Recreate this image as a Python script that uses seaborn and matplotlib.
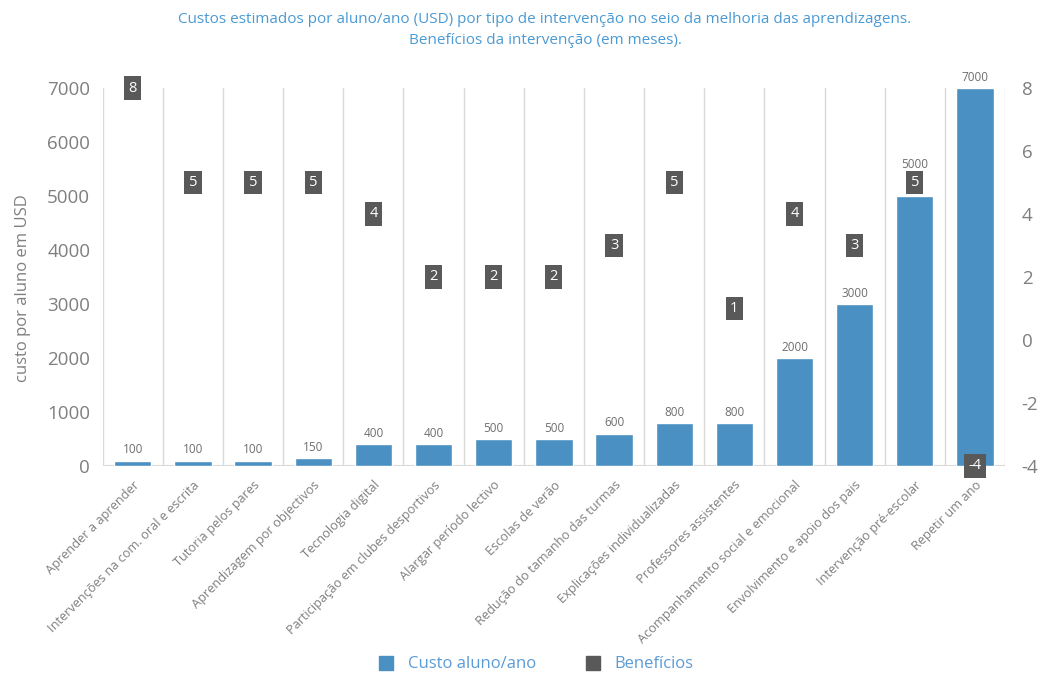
import matplotlib
matplotlib.use("Agg")
import matplotlib.pyplot as plt
from matplotlib.lines import Line2D
import seaborn as sns
import pandas as pd

categories = [
    "Aprender a aprender",
    "Intervenções na com. oral e escrita",
    "Tutoria pelos pares",
    "Aprendizagem por objectivos",
    "Tecnologia digital",
    "Participação em clubes desportivos",
    "Alargar período lectivo",
    "Escolas de verão",
    "Redução do tamanho das turmas",
    "Explicações individualizadas",
    "Professores assistentes",
    "Acompanhamento social e emocional",
    "Envolvimento e apoio dos pais",
    "Intervenção pré-escolar",
    "Repetir um ano",
]
custo = [100, 100, 100, 150, 400, 400, 500, 500, 600, 800, 800, 2000, 3000, 5000, 7000]
beneficios = [8, 5, 5, 5, 4, 2, 2, 2, 3, 5, 1, 4, 3, 5, -4]

title = ("Custos estimados por aluno/ano (USD) por tipo de intervenção no seio da melhoria das aprendizagens.\n"
         "Benefícios da intervenção (em meses).")

BLUE = "#4a90c2"
DARK = "#595959"
GRID = "#d9d9d9"
TXT = "#7f7f7f"
TITLE_C = "#4a9ad4"
LEG_C = "#5b9bd5"

C_MAX = 7000
B_MIN, B_MAX = -4, 8

sns.set_theme(style="white")
plt.rcParams["font.family"] = ["Open Sans", "DejaVu Sans"]
plt.rcParams["axes.unicode_minus"] = False

df = pd.DataFrame({"categoria": categories, "custo": custo, "beneficio": beneficios})

fig = plt.figure(figsize=(10.48, 6.78), dpi=100)
ax = fig.add_axes([0.098, 0.3127, 0.861, 0.5575])

sns.barplot(data=df, x="categoria", y="custo", color=BLUE, saturation=1,
            width=0.62, ax=ax, zorder=3)

ax.set_xlim(-0.5, len(categories) - 0.5)
ax.set_ylim(0, C_MAX)
ax.set_yticks(range(0, C_MAX + 1, 1000))
ax.tick_params(axis="y", labelsize=13.5, labelcolor=TXT, length=0, pad=9)
ax.tick_params(axis="x", length=0, pad=9)
ax.set_xticks(range(len(categories)))
ax.set_xticklabels(categories, rotation=45, ha="right", rotation_mode="anchor",
                   fontsize=9.2, color=TXT)
ax.set_xlabel("")
ax.set_ylabel("custo por aluno em USD", fontsize=12, color=TXT)
ax.yaxis.set_label_coords(-0.079, 0.47)

for s in ax.spines.values():
    s.set_visible(False)
for i in range(len(categories) + 1):
    ax.axvline(i - 0.5, color=GRID, lw=1, zorder=1)
ax.axhline(0, color=GRID, lw=1.5, zorder=2)

# value labels above the bars; lift a label when a benefit box sits on the bar top
for i, (v, b) in enumerate(zip(custo, beneficios)):
    box_pos = (b - B_MIN) / (B_MAX - B_MIN) * C_MAX
    dy = 18 if abs(box_pos - v) < 400 else 3
    ax.annotate(f"{v}", (i, v), xytext=(0, dy), textcoords="offset points",
                ha="center", va="bottom", fontsize=8.5, color="#6e6e6e", zorder=5,
                annotation_clip=False)

ax2 = ax.twinx()
ax2.set_ylim(B_MIN, B_MAX)
ax2.set_yticks(range(B_MIN, B_MAX + 1, 2))
ax2.tick_params(axis="y", labelsize=13.5, labelcolor=TXT, length=0, pad=12)
for s in ax2.spines.values():
    s.set_visible(False)
ax2.grid(False)

for i, b in enumerate(beneficios):
    ax2.text(i, b, f"{b}", ha="center", va="center", fontsize=10.5, color="white",
             zorder=6, clip_on=False,
             bbox=dict(boxstyle="square,pad=0.3", fc=DARK, ec="none"))

fig.suptitle(title, x=0.52, y=0.982, fontsize=11, color=TITLE_C, linespacing=1.55)

handles = [
    Line2D([0], [0], marker="s", ls="none", markersize=10, color=BLUE),
    Line2D([0], [0], marker="s", ls="none", markersize=10, color=DARK),
]
leg = fig.legend(handles, ["Custo aluno/ano", "Benefícios"], loc="center",
                 bbox_to_anchor=(0.507, 0.02), ncol=2, frameon=False,
                 fontsize=12, columnspacing=2.4, handletextpad=0.3)
for t in leg.get_texts():
    t.set_color(LEG_C)

fig.savefig("out.png", dpi=100)
